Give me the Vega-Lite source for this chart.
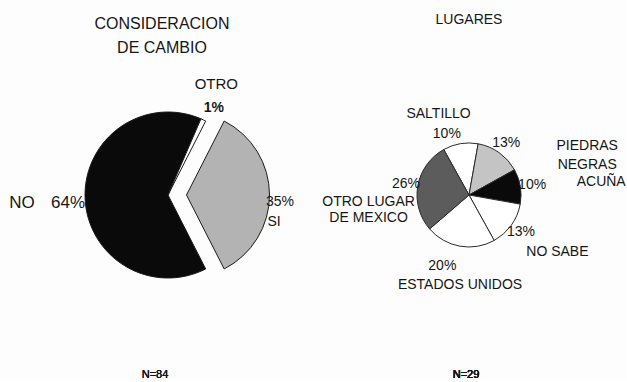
{
  "$schema": "https://vega.github.io/schema/vega-lite/v6.json",
  "background": "#fdfdfd",
  "padding": {"left": 5, "top": 10, "right": 0, "bottom": 0},
  "bounds": "flush",
  "spacing": 20,
  "config": {
    "view": {"stroke": null},
    "font": "Liberation Sans",
    "text": {"font": "Liberation Sans", "color": "#161616", "lineBreak": "\n"},
    "title": {"font": "Liberation Sans", "fontWeight": "normal", "color": "#161616"}
  },
  "resolve": {"scale": {"color": "independent", "theta": "independent"}},
  "hconcat": [
    {
      "width": 326,
      "height": 370,
      "title": {"text": ["CONSIDERACION", "DE CAMBIO"], "fontSize": 16, "lineHeight": 24, "offset": -46, "dx": -6},
      "data": {"values": [
        {"cat": "NO", "value": 64, "order": 1, "name": "NO", "pct": "64%"},
        {"cat": "OTRO", "value": 1, "order": 2, "name": "OTRO", "pct": "1%"},
        {"cat": "SI", "value": 35, "order": 3, "name": "SI", "pct": "35%"}
      ]},
      "layer": [
        {
          "encoding": {
            "theta": {"field": "value", "type": "quantitative", "stack": true, "scale": {"domain": [0, 100], "range": [2.67035, 8.95354]}},
            "order": {"field": "order", "type": "quantitative"},
            "detail": {"field": "cat", "type": "nominal"}
          },
          "layer": [
            {
              "mark": {"type": "arc", "radius": 83, "stroke": "#1a1a1a", "strokeWidth": 1},
              "encoding": {
                "color": {"field": "cat", "type": "nominal", "scale": {"domain": ["NO", "OTRO", "SI"], "range": ["#0a0a0a", "#ffffff", "#b3b3b3"]}, "legend": null},
                "opacity": {"condition": {"test": "datum.cat === 'SI'", "value": 0}, "value": 1}
              }
            },
            {
              "mark": {"type": "arc", "radius": 83, "stroke": "#1a1a1a", "strokeWidth": 1, "xOffset": 18.5},
              "encoding": {
                "color": {"field": "cat", "type": "nominal", "scale": {"domain": ["NO", "OTRO", "SI"], "range": ["#0a0a0a", "#ffffff", "#b3b3b3"]}, "legend": null},
                "opacity": {"condition": {"test": "datum.cat === 'SI'", "value": 1}, "value": 0}
              }
            },
            {
              "mark": {"type": "text", "radius": 123, "dx": -4, "fontSize": 15},
              "encoding": {"text": {"condition": {"test": "datum.cat === 'OTRO'", "field": "name", "type": "nominal"}, "value": ""}}
            },
            {
              "mark": {"type": "text", "radius": 96, "dx": 5, "fontSize": 14, "fontWeight": "bold"},
              "encoding": {"text": {"condition": {"test": "datum.cat === 'OTRO'", "field": "pct", "type": "nominal"}, "value": ""}}
            },
            {
              "mark": {"type": "text", "radius": 146, "dy": 3, "fontSize": 17},
              "encoding": {"text": {"condition": {"test": "datum.cat === 'NO'", "field": "name", "type": "nominal"}, "value": ""}}
            },
            {
              "mark": {"type": "text", "radius": 100, "dy": 5, "fontSize": 17},
              "encoding": {"text": {"condition": {"test": "datum.cat === 'NO'", "field": "pct", "type": "nominal"}, "value": ""}}
            },
            {
              "mark": {"type": "text", "radius": 93.5, "dy": 7, "xOffset": 18.5, "fontSize": 14},
              "encoding": {"text": {"condition": {"test": "datum.cat === 'SI'", "field": "pct", "type": "nominal"}, "value": ""}}
            },
            {
              "mark": {"type": "text", "radius": 87.5, "dy": 27, "xOffset": 18.5, "fontSize": 14},
              "encoding": {"text": {"condition": {"test": "datum.cat === 'SI'", "field": "name", "type": "nominal"}, "value": ""}}
            }
          ]
        },
        {
          "mark": {"type": "text", "y": "height", "baseline": "bottom", "dx": -13, "fontSize": 11},
          "encoding": {"text": {"value": "N=84"}}
        }
      ]
    },
    {
      "width": 236,
      "height": 370,
      "title": {"text": "LUGARES", "fontSize": 14, "offset": -17},
      "data": {"values": [
        {"cat": "SALTILLO", "value": 10, "order": 1, "name": "SALTILLO", "pct": "10%"},
        {"cat": "PIEDRAS NEGRAS", "value": 13, "order": 2, "name": "PIEDRAS\nNEGRAS", "pct": "13%"},
        {"cat": "ACUÑA", "value": 10, "order": 3, "name": "ACUÑA", "pct": "10%"},
        {"cat": "NO SABE", "value": 13, "order": 4, "name": "NO SABE", "pct": "13%"},
        {"cat": "ESTADOS UNIDOS", "value": 20, "order": 5, "name": "ESTADOS UNIDOS", "pct": "20%"},
        {"cat": "OTRO LUGAR DE MEXICO", "value": 26, "order": 6, "name": "OTRO LUGAR\nDE MEXICO", "pct": "26%"}
      ]},
      "layer": [
        {
          "encoding": {
            "theta": {"field": "value", "type": "quantitative", "stack": true, "scale": {"domain": [0, 92], "range": [-0.50615, 5.77704]}},
            "order": {"field": "order", "type": "quantitative"},
            "detail": {"field": "cat", "type": "nominal"}
          },
          "layer": [
            {
              "mark": {"type": "arc", "radius": 52, "stroke": "#2a2a2a", "strokeWidth": 1},
              "encoding": {
                "color": {"field": "cat", "type": "nominal", "scale": {"domain": ["SALTILLO", "PIEDRAS NEGRAS", "ACUÑA", "NO SABE", "ESTADOS UNIDOS", "OTRO LUGAR DE MEXICO"], "range": ["#ffffff", "#c4c4c4", "#0a0a0a", "#ffffff", "#ffffff", "#5c5c5c"]}, "legend": null}
              }
            },
            {
              "mark": {"type": "text", "radius": 64, "fontSize": 14},
              "encoding": {"text": {"condition": {"test": "indexof(['PIEDRAS NEGRAS','ACUÑA','NO SABE','OTRO LUGAR DE MEXICO'], datum.cat) >= 0", "field": "pct", "type": "nominal"}, "value": ""}}
            },
            {
              "mark": {"type": "text", "radius": 62, "dx": -12, "fontSize": 14},
              "encoding": {"text": {"condition": {"test": "datum.cat === 'SALTILLO'", "field": "pct", "type": "nominal"}, "value": ""}}
            },
            {
              "mark": {"type": "text", "radius": 82, "dx": -17, "fontSize": 14},
              "encoding": {"text": {"condition": {"test": "datum.cat === 'SALTILLO'", "field": "name", "type": "nominal"}, "value": ""}}
            },
            {
              "mark": {"type": "text", "radius": 72, "dx": -14, "fontSize": 14},
              "encoding": {"text": {"condition": {"test": "datum.cat === 'ESTADOS UNIDOS'", "field": "pct", "type": "nominal"}, "value": ""}}
            },
            {
              "mark": {"type": "text", "radius": 91, "dx": 7, "fontSize": 14},
              "encoding": {"text": {"condition": {"test": "datum.cat === 'ESTADOS UNIDOS'", "field": "name", "type": "nominal"}, "value": ""}}
            },
            {
              "mark": {"type": "text", "radius": 64, "dx": 81, "dy": 3.5, "lineHeight": 19, "fontSize": 14},
              "encoding": {"text": {"condition": {"test": "datum.cat === 'PIEDRAS NEGRAS'", "field": "name", "type": "nominal"}, "value": ""}}
            },
            {
              "mark": {"type": "text", "radius": 134, "dx": 0, "dy": 9, "fontSize": 14},
              "encoding": {"text": {"condition": {"test": "datum.cat === 'ACUÑA'", "field": "name", "type": "nominal"}, "value": ""}}
            },
            {
              "mark": {"type": "text", "radius": 105, "dx": 3, "dy": -4, "fontSize": 14},
              "encoding": {"text": {"condition": {"test": "datum.cat === 'NO SABE'", "field": "name", "type": "nominal"}, "value": ""}}
            },
            {
              "mark": {"type": "text", "radius": 102, "dy": 25, "lineHeight": 15.5, "fontSize": 14},
              "encoding": {"text": {"condition": {"test": "datum.cat === 'OTRO LUGAR DE MEXICO'", "field": "name", "type": "nominal"}, "value": ""}}
            }
          ]
        },
        {
          "mark": {"type": "text", "y": "height", "baseline": "bottom", "dx": -3, "fontSize": 11},
          "encoding": {"text": {"value": "N=29"}}
        }
      ]
    }
  ]
}
